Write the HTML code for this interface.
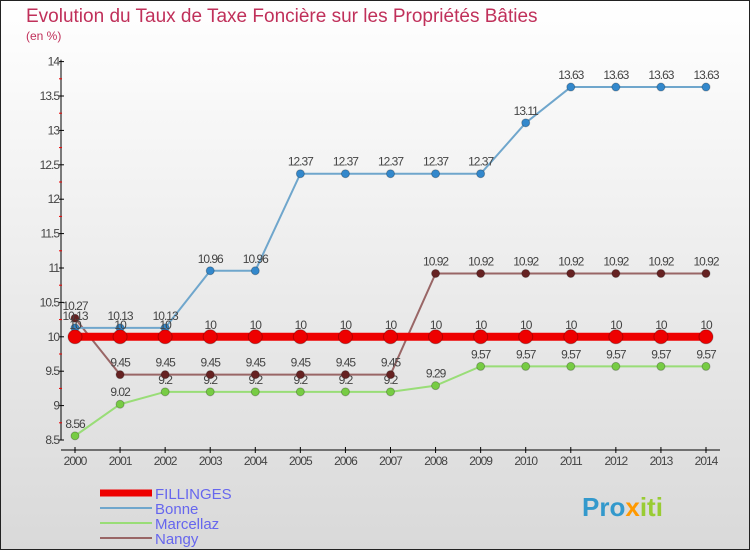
<!DOCTYPE html>
<html><head><meta charset="utf-8"><style>
body{margin:0;width:750px;height:550px;overflow:hidden;font-family:"Liberation Sans",sans-serif}
svg text{font-family:"Liberation Sans",sans-serif}
</style></head><body>
<svg id="c" width="750" height="550">
<defs><linearGradient id="bg" x1="0" y1="0" x2="0" y2="1"><stop offset="0" stop-color="#ffffff"/><stop offset="1" stop-color="#d9d9d9"/></linearGradient></defs>
<rect x="0.5" y="0.5" width="749" height="549" fill="url(#bg)" stroke="#222"/>
<text x="26" y="22" font-size="19" fill="#c0305a">Evolution du Taux de Taxe Foncière sur les Propriétés Bâties</text>
<text x="26" y="40" font-size="12" fill="#c0305a">(en %)</text>
<g id="axes"></g><g id="series"></g>
<g>
<line x1="100" y1="493" x2="152" y2="493" stroke="#ee0000" stroke-width="7"/>
<text x="155" y="499" font-size="15" fill="#6666ee">FILLINGES</text>
<line x1="100" y1="508" x2="152" y2="508" stroke="#6fa6cc" stroke-width="2"/>
<text x="155" y="514" font-size="15" fill="#6666ee">Bonne</text>
<line x1="100" y1="523" x2="152" y2="523" stroke="#99dd77" stroke-width="2"/>
<text x="155" y="529" font-size="15" fill="#6666ee">Marcellaz</text>
<line x1="100" y1="538" x2="152" y2="538" stroke="#996666" stroke-width="2"/>
<text x="155" y="544" font-size="15" fill="#6666ee">Nangy</text>
</g>
<text x="582" y="516" font-size="26" font-weight="bold" fill="#3399cc">Pro<tspan fill="#ff9900">x</tspan><tspan fill="#99cc33">iti</tspan></text>
</svg>
<script>
const years=[2000,2001,2002,2003,2004,2005,2006,2007,2008,2009,2010,2011,2012,2013,2014];
const yTicks=[8.5,9,9.5,10,10.5,11,11.5,12,12.5,13,13.5,14];
const fillinges=[10,10,10,10,10,10,10,10,10,10,10,10,10,10,10];
const bonne=[10.13,10.13,10.13,10.96,10.96,12.37,12.37,12.37,12.37,12.37,13.11,13.63,13.63,13.63,13.63];
const marcellaz=[8.56,9.02,9.2,9.2,9.2,9.2,9.2,9.2,9.29,9.57,9.57,9.57,9.57,9.57,9.57];
const nangy=[10.27,9.45,9.45,9.45,9.45,9.45,9.45,9.45,10.92,10.92,10.92,10.92,10.92,10.92,10.92];
const NS="http://www.w3.org/2000/svg";
const X=i=>75+i*(706-75)/(years.length-1);
const Y=v=>440-(v-8.5)*(440-61.6)/5.5;
function el(t,a,p){const e=document.createElementNS(NS,t);for(const k in a)e.setAttribute(k,a[k]);p.appendChild(e);return e;}
const ax=document.getElementById('axes');
el('line',{x1:61,y1:Y(14)-2,x2:61,y2:440,stroke:'#000'},ax);
el('line',{x1:61,y1:450,x2:720,y2:450,stroke:'#000'},ax);
yTicks.forEach((v,k)=>{el('line',{x1:59,y1:Y(v),x2:64,y2:Y(v),stroke:'#000'},ax);
 if(k<yTicks.length-1) el('line',{x1:59,y1:Y(v+0.25),x2:62,y2:Y(v+0.25),stroke:'#e00'},ax);
 const t=el('text',{x:59,y:Y(v)+4,'font-size':12,'text-anchor':'end',fill:'#444','letter-spacing':'-1'},ax);t.textContent=String(v);
 });
years.forEach((y,i)=>{el('line',{x1:X(i),y1:447,x2:X(i),y2:453,stroke:'#000'},ax);
 const t=el('text',{x:X(i),y:465,'font-size':12,'text-anchor':'middle',fill:'#444','letter-spacing':'-1'},ax);t.textContent=y;
 });
const sg=document.getElementById('series');
function series(name,vals,color,dot,w,r){
 const g=el('g',{},sg);
 el('polyline',{points:vals.map((v,i)=>X(i)+','+Y(v)).join(' '),fill:'none',stroke:color,'stroke-width':w},g);
 vals.forEach((v,i)=>{const c=el('circle',{cx:X(i),cy:Y(v),r:r,fill:dot,stroke:'rgba(0,0,0,0.25)'},g);
  
  const t=el('text',{x:X(i),y:Y(v)-8,'font-size':12,'text-anchor':'middle',fill:'#444','letter-spacing':'-1'},g);t.textContent=String(v);
  });
}
series('marcellaz',marcellaz,'#99dd77','#77cc44',2,4);
series('nangy',nangy,'#996666','#662222',2,4);
series('bonne',bonne,'#6fa6cc','#3388cc',2,4);
series('fillinges',fillinges,'#ee0000','#ee0000',8,7);
</script>
</body></html>
